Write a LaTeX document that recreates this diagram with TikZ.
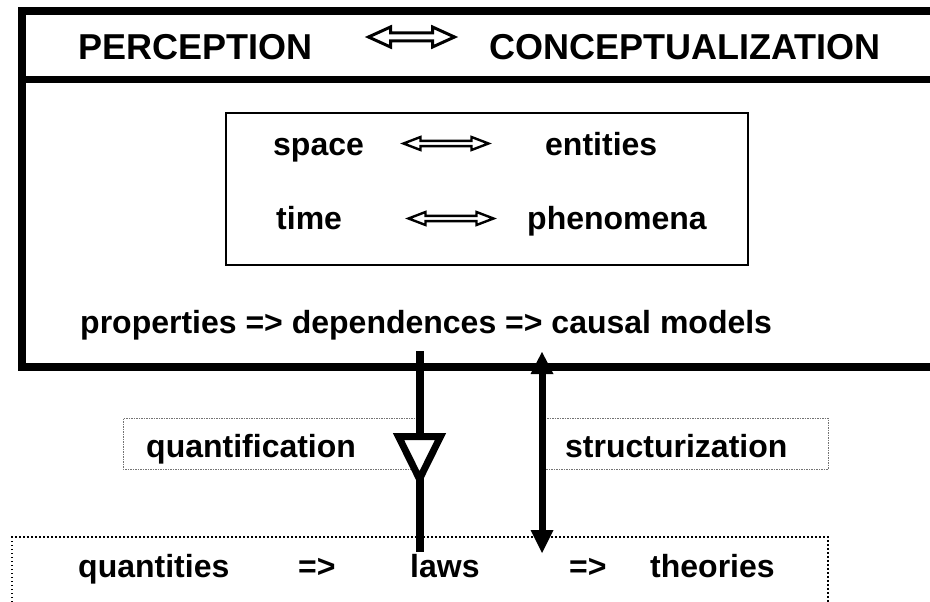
\documentclass[tikz,border=0pt]{standalone}
\usepackage{fontspec}
\setmainfont{Liberation Sans}
\newcommand{\dblarr}[7]{% cx cy L h H s lw
\begin{scope}[shift={(#1,#2)}]
\draw[line width=#7, fill=white, line join=miter, miter limit=10] (-#3,0) -- (-#3+#4,-#5) -- (-#3+#4,-#6) -- (#3-#4,-#6) -- (#3-#4,-#5) -- (#3,0) -- (#3-#4,#5) -- (#3-#4,#6) -- (-#3+#4,#6) -- (-#3+#4,#5) -- cycle;
\end{scope}}
\begin{document}
\begin{tikzpicture}[x=1pt,y=-1pt,
  txt/.style={anchor=base west, inner sep=0pt, font=\bfseries\fontsize{32}{38}\selectfont},
  ttl/.style={anchor=base west, inner sep=0pt, font=\bfseries\fontsize{36}{42}\selectfont},
  thick8/.style={line width=8pt},
  midbox/.style={draw=black!55, line width=0.8pt, dash pattern=on 1.5pt off 1pt},
  lowbox/.style={draw=black, line width=1.5pt, dash pattern=on 1.5pt off 2.5pt},
  innerbox/.style={draw=black, line width=1.8pt}]
\useasboundingbox (0,0) rectangle (930,602);
% outer frame
\draw[thick8, line join=miter] (945,11) -- (22,11) -- (22,367) -- (945,367);
\draw[line width=7pt] (22,79.5) -- (945,79.5);
% title
\node[ttl] (perc) at (78,60) {PERCEPTION};
\node[ttl] (conc) at (489,60) {CONCEPTUALIZATION};
\dblarr{411.5}{37}{43}{22}{10}{4}{3pt}
% inner box
\draw[innerbox] (226,113) rectangle (748,265);
\node[txt] (space) at (273,155) {space};
\node[txt] (ent) at (545,155) {entities};
\node[txt] (time) at (276,229) {time};
\node[txt] (phen) at (527,229) {phenomena};
\dblarr{446}{143.5}{42.5}{17}{6.5}{2.6}{2.4pt}
\dblarr{451}{218.5}{42.5}{17}{6.5}{2.6}{2.4pt}
% properties row
\node[txt] (prop) at (80,333) {properties => dependences => causal models};
% middle boxes
\draw[midbox] (420,418) -- (123,418) -- (123,469) -- (420,469);
\draw[midbox] (542,418) -- (828,418) -- (828,469) -- (542,469);
\node[txt] (quant) at (146,457) {quantification};
\node[txt] (struct) at (565,457) {structurization};
% lower box
\draw[lowbox] (12,610) -- (12,537) -- (828,537) -- (828,610);
\node[txt] (q1) at (78,577) {quantities};
\node[txt] (i1) at (298,577) {=>};
\node[txt] (laws) at (410,577) {laws};
\node[txt] (i2) at (569,577) {=>};
\node[txt] (theo) at (650,577) {theories};
% quantification arrow
\coordinate (qa) at (419.5,351);
\coordinate (qb) at (419.5,552);
\draw[line width=8pt] (qa) -- (qb);
\draw[line width=7pt, fill=white, line join=miter] (398.5,436.5) -- (440.5,436.5) -- (419.5,479) -- cycle;
% structurization arrow
\coordinate (sa) at (542,352);
\coordinate (sb) at (542,553);
\draw[line width=7pt] (542,370) -- (542,535);
\fill (sa) -- (530.5,374) -- (553.5,374) -- cycle;
\fill (sb) -- (530.5,530) -- (553.5,530) -- cycle;
\end{tikzpicture}
\end{document}
